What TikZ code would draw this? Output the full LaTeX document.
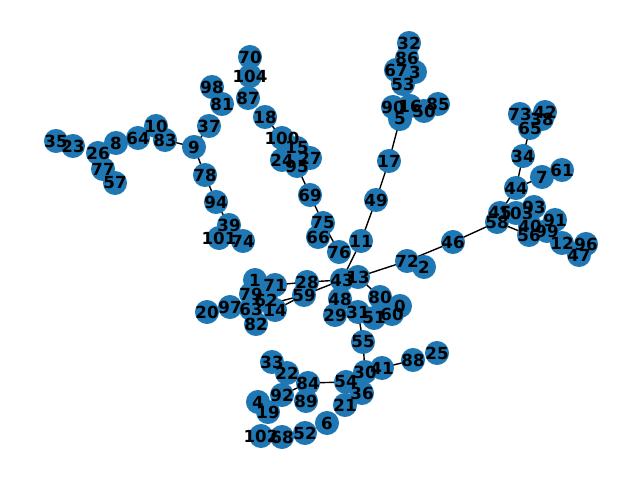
\documentclass[tikz,border=0pt]{standalone}
\usepackage{fontspec}
\setmainfont{DejaVu Sans}
\definecolor{nxblue}{HTML}{1F77B4}
\begin{document}
\begin{tikzpicture}[x=0.72bp,y=-0.72bp,
  vert/.style={circle,fill=nxblue,minimum size=24.06*0.72bp,inner sep=0pt},
  lab/.style={font=\fontsize{12bp}{14bp}\selectfont\bfseries,inner sep=0pt},
  edge/.style={draw=black,line width=1bp}]
\useasboundingbox (0,0) rectangle (640,480);
\foreach \n/\x/\y in {0/400/306,1/255/280,2/424/267,3/415/72,4/258/402,5/400/119,6/327/423,7/542/177,8/116/143,9/194/147,10/156/126,11/361/241,12/562/243,13/358/277,14/275/310,15/297/148,16/410/106,17/389/161,18/265/117,19/268/412,20/207/312,21/345/405,22/287/373,23/73/146,24/282/160,25/437/353,26/98/153,27/310/158,28/307/282,29/335/315,30/365/372,31/358/312,32/409/43,33/272/362,34/523/156,35/56/141,36/362/393,37/209/126,38/542/119,39/229/225,40/530/226,41/382/368,42/545/112,43/342/280,44/516/188,45/500/213,46/453/242,47/579/255,48/340/299,49/376/200,50/424/111,51/374/318,52/305/433,53/403/84,54/346/382,55/363/342,56/529/235,57/115/183,58/497/222,59/304/295,60/392/314,61/562/170,62/266/300,63/251/309,64/138/138,65/530/128,66/318/237,67/396/70,68/282/437,69/310/195,70/250/57,71/275/285,72/407/261,73/520/114,74/243/241,75/323/223,76/339/252,77/103/169,78/205/175,79/251/294,80/380/297,81/222/104,82/256/324,83/165/140,84/308/383,85/438/104,86/407/58,87/248/98,88/413/360,89/306/401,90/393/107,91/555/220,92/282/395,93/534/207,94/216/202,95/297/166,96/586/244,97/230/307,98/212/87,99/547/231,100/282/138,101/219/238,102/261/436,103/516/213,104/250/76}
  {\coordinate (p\n) at (\x,\y);}
% edges
\foreach \a/\b in {83/9,9/37,9/78,78/94,94/39,18/100,95/69,69/75,75/76,11/43,11/49,49/17,17/5,13/72,72/46,46/58,58/56,44/34,34/65,44/45,44/7,71/28,28/43,59/43,59/63,59/14,13/80,31/55,55/30,54/84,84/92,41/88}
  {\draw[edge] (p\a) -- (p\b);}
% nodes
\foreach \n in {0,...,104} {\node[vert] (v\n) at (p\n) {};}
% labels
\foreach \n in {0,...,104} {\node[lab] (t\n) at (p\n) {\n};}
\end{tikzpicture}
\end{document}
